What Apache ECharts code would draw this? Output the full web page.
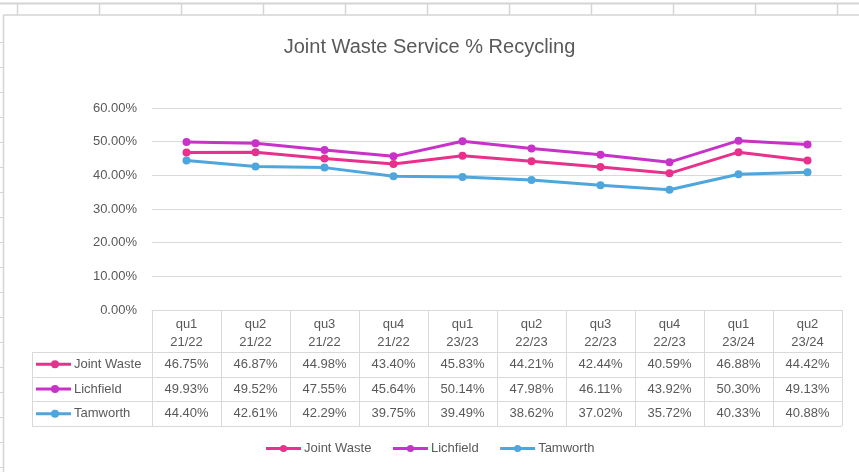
<!DOCTYPE html>
<html>
<head>
<meta charset="utf-8">
<script src="https://cdn.jsdelivr.net/npm/echarts@6/dist/echarts.min.js"></script>
<style>
html,body{margin:0;padding:0;background:#fff;}
#c{width:859px;height:472px;}
</style>
</head>
<body>
<div id="c"></div>
<script>
const categories = ['qu1\n21/22','qu2\n21/22','qu3\n21/22','qu4\n21/22','qu1\n23/23','qu2\n22/23','qu3\n22/23','qu4\n22/23','qu1\n23/24','qu2\n23/24'];
const jointWaste = [46.75,46.87,44.98,43.40,45.83,44.21,42.44,40.59,46.88,44.42];
const lichfield  = [49.93,49.52,47.55,45.64,50.14,47.98,46.11,43.92,50.30,49.13];
const tamworth   = [44.40,42.61,42.29,39.75,39.49,38.62,37.02,35.72,40.33,40.88];
const seriesNames = ['Joint Waste','Lichfield','Tamworth'];
const yTicks = [0,10,20,30,40,50,60];

const colors = ['#E8318C','#C832C8','#4EA6DC'];
const allData = [jointWaste, lichfield, tamworth];
const FONT = '"Liberation Sans", Arial, sans-serif';
const TXT = '#595959';
const GRID = '#D9D9D9';

const chart = echarts.init(document.getElementById('c'), null, {renderer:'canvas'});

const option = {
  animation:false,
  backgroundColor:'#fff',
  textStyle:{fontFamily:FONT},
  title:{
    text:'Joint Waste Service % Recycling',
    left:'center', top:32,
    textStyle:{fontFamily:FONT, fontSize:20, fontWeight:'normal', color:TXT}
  },
  legend:{
    bottom:12, left:'center',
    itemWidth:35, itemHeight:9, itemGap:20,
    lineStyle:{width:3},
    textStyle:{fontFamily:FONT, fontSize:13, color:TXT, padding:[0,0,0,-2]},
    data:seriesNames
  },
  grid:{left:152, right:17, top:108, bottom:162, containLabel:false},
  xAxis:{
    type:'category', data:categories, boundaryGap:true,
    axisLine:{show:true, lineStyle:{color:GRID, width:1}},
    axisTick:{show:true, interval:0, length:116, lineStyle:{color:GRID, width:1}},
    axisLabel:{interval:0, color:TXT, fontSize:13, lineHeight:18, margin:5, fontFamily:FONT}
  },
  yAxis:{
    type:'value', min:yTicks[0]/100, max:yTicks[yTicks.length-1]/100, interval:0.1,
    axisLine:{show:false}, axisTick:{show:false},
    axisLabel:{color:TXT, fontSize:13, margin:15, fontFamily:FONT,
      formatter:v=>(v*100).toFixed(2)+'%'},
    splitLine:{lineStyle:{color:GRID, width:1}}
  },
  series: seriesNames.map((n,i)=>({
    name:n, type:'line',
    data:allData[i].map(v=>v/100),
    symbol:'circle', symbolSize:8,
    lineStyle:{width:3, color:colors[i]},
    itemStyle:{color:colors[i]},
    z:10-i
  }))
};
chart.setOption(option);

// Build data table + spreadsheet background from axes
function buildGraphics(){
  const y0 = chart.convertToPixel({yAxisIndex:0}, 0);
  const step = chart.convertToPixel({xAxisIndex:0},1)-chart.convertToPixel({xAxisIndex:0},0);
  const xL = chart.convertToPixel({xAxisIndex:0}, 0) - step/2;
  const xR = xL + step*categories.length;
  const headerH = 42, rowH = 24.7;
  const tableLeft = 32;
  const els = [];
  const rowTop = y0 + headerH;
  // horizontal lines of table
  for (let r=0; r<=seriesNames.length; r++){
    const y = Math.round(rowTop + r*rowH)+0.5;
    els.push({type:'line', shape:{x1:tableLeft, y1:y, x2:xR, y2:y}, style:{stroke:GRID, lineWidth:1}, silent:true});
  }
  // left vertical line of row label column
  els.push({type:'line', shape:{x1:tableLeft+0.5, y1:rowTop, x2:tableLeft+0.5, y2:rowTop+rowH*seriesNames.length}, style:{stroke:GRID, lineWidth:1}, silent:true});
  // row labels with symbol
  seriesNames.forEach((n,r)=>{
    const cy = rowTop + r*rowH + rowH/2;
    els.push({type:'line', shape:{x1:36, y1:cy, x2:71, y2:cy}, style:{stroke:colors[r], lineWidth:3}, silent:true});
    els.push({type:'circle', shape:{cx:55, cy:cy, r:4}, style:{fill:colors[r]}, silent:true});
    els.push({type:'text', x:74, y:cy, style:{text:n, fill:TXT, font:'13px '+FONT, textVerticalAlign:'middle', verticalAlign:'middle'}, silent:true});
    allData[r].forEach((v,i)=>{
      const cx = chart.convertToPixel({xAxisIndex:0}, i);
      els.push({type:'text', x:cx, y:cy, style:{text:v.toFixed(2)+'%', fill:TXT, font:'13px '+FONT, align:'center', textAlign:'center', verticalAlign:'middle', textVerticalAlign:'middle'}, silent:true});
    });
  });
  // spreadsheet background: top strip and left strip
  const SS = '#D4D4D4';
  els.push({type:'line', shape:{x1:0, y1:3.5, x2:859, y2:3.5}, style:{stroke:SS, lineWidth:2}, silent:true, z:-1});
  for (let x=17; x<859; x+=82){
    els.push({type:'line', shape:{x1:x+0.5, y1:3, x2:x+0.5, y2:15}, style:{stroke:SS, lineWidth:1.5}, silent:true});
  }
  els.push({type:'line', shape:{x1:3.5, y1:15, x2:859, y2:15}, style:{stroke:SS, lineWidth:1.5}, silent:true});
  els.push({type:'line', shape:{x1:3.5, y1:15, x2:3.5, y2:472}, style:{stroke:SS, lineWidth:1.5}, silent:true});
  for (let y=42; y<472; y+=25){
    els.push({type:'line', shape:{x1:0, y1:y+0.5, x2:3, y2:y+0.5}, style:{stroke:SS, lineWidth:1}, silent:true});
  }
  chart.setOption({graphic:{elements:els}});
}
buildGraphics();
</script>
</body>
</html>
